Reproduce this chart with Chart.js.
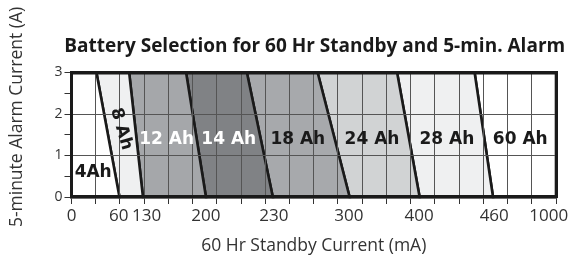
<!DOCTYPE html>
<html>
<head>
<meta charset="utf-8">
<script src="https://cdn.jsdelivr.net/npm/chart.js@4.4.0/dist/chart.umd.min.js"></script>
<style>
    html, body { margin: 0; padding: 0; background: #fff; }
    #wrap { width: 568px; height: 258px; }
</style>
</head>
<body>
<div id="wrap"><canvas id="grafico" width="568" height="258"></canvas></div>
<script>
// battery sizes, left to right
var batteries = ['4Ah', '8 Ah', '12 Ah', '14 Ah', '18 Ah', '24 Ah', '28 Ah', '60 Ah'];

// the chart is a 20 column grid, the dividing lines go from top (3 A) to bottom (0 A)
// edges in grid columns, first and last are the frame
var edgeTop = [0, 1.03, 2.38, 4.73, 7.24, 10.16, 13.44, 16.64, 20];
var edgeBottom = [0, 1.98, 2.95, 5.55, 8.31, 11.48, 14.37, 17.4, 20];

// height (A) where each size name sits
var labelLevel = [0.6, 1.64, 1.39, 1.39, 1.39, 1.39, 1.39, 1.39];

// x axis: standby current written where the lines meet the bottom
var xTickLabels = ['0', '60', '130', '200', '230', '300', '400', '460', '1000'];
var xTickPos = [0, 1.95, 3.1, 5.55, 8.35, 11.45, 14.35, 17.45, 19.7];
var yMin = 0, yMax = 3;
var gridCols = 20;

var chartTitle = 'Battery Selection for 60 Hr Standby and 5-min. Alarm';
var yTitle = '5-minute Alarm Current (A)';

var fillColors = ['#ffffff', '#eff0f1', '#a5a7aa', '#808285', '#a7a9ac', '#d1d3d4', '#eff0f1', '#ffffff'];
var textColors = ['#1a1a1a', '#1a1a1a', '#ffffff', '#ffffff', '#1a1a1a', '#1a1a1a', '#1a1a1a', '#1a1a1a'];
var textAngles = [0, 74, 0, 0, 0, 0, 0, 0];

function edgeAt(k, y) {
    // x of dividing line k at height y
    return edgeBottom[k] + (edgeTop[k] - edgeBottom[k]) * (y - yMin) / (yMax - yMin);
}

var datasets = [];
for (var i = 0; i < batteries.length; i++) {
    datasets.push({
        label: batteries[i],
        data: [
            {x: edgeTop[i], y: yMax},
            {x: edgeTop[i + 1], y: yMax},
            {x: edgeBottom[i + 1], y: yMin},
            {x: edgeBottom[i], y: yMin},
            {x: edgeTop[i], y: yMax}
        ],
        showLine: true,
        fill: 'shape',
        backgroundColor: fillColors[i],
        borderColor: '#1a1a1a',
        borderWidth: 2.6,
        pointRadius: 0,
        tension: 0,
        clip: false
    });
}

var sizeNames = {
    id: 'sizeNames',
    afterDraw: function (chart) {
        var ctx = chart.ctx;
        var xs = chart.scales.x;
        var ys = chart.scales.y;
        for (var i = 0; i < batteries.length; i++) {
            var lv = labelLevel[i];
            var cx = (edgeAt(i, lv) + edgeAt(i + 1, lv)) / 2;
            ctx.save();
            ctx.translate(xs.getPixelForValue(cx), ys.getPixelForValue(lv));
            ctx.rotate(textAngles[i] * Math.PI / 180);
            ctx.font = 'bold 17px "DejaVu Sans"';
            ctx.fillStyle = textColors[i];
            ctx.textAlign = 'center';
            ctx.textBaseline = 'middle';
            ctx.fillText(batteries[i], 0, 0);
            ctx.restore();
        }
        // title is a bit wider than the plot, so drawn here
        ctx.save();
        ctx.font = 'bold 19px "Open Sans"';
        ctx.fillStyle = '#1a1a1a';
        ctx.textAlign = 'center';
        ctx.textBaseline = 'middle';
        ctx.fillText(chartTitle, (chart.chartArea.left + chart.chartArea.right) / 2 + 1, 47);
        ctx.restore();
        // y axis title, sits a bit above the middle of the plot
        ctx.save();
        ctx.translate(17, 117);
        ctx.rotate(-Math.PI / 2);
        ctx.font = '17.5px "Open Sans"';
        ctx.fillStyle = '#333';
        ctx.textAlign = 'center';
        ctx.textBaseline = 'middle';
        ctx.fillText(yTitle, 0, 0);
        ctx.restore();
    }
};

// frame only axes for the top and right edge
var frameOnly = {
    display: true,
    min: 0,
    grid: { display: false, drawTicks: false },
    ticks: { display: false },
    border: { display: true, color: '#1a1a1a', width: 3.5, z: 2 }
};

var ctx = document.getElementById('grafico');
var chart = new Chart(ctx, {
    type: 'scatter',
    data: { datasets: datasets },
    options: {
        responsive: false,
        animation: false,
        devicePixelRatio: 1,
        layout: { padding: { left: 0, right: 12, top: 72.5, bottom: 1 } },
        plugins: {
            legend: { display: false },
            tooltip: { enabled: false },
            title: { display: false }
        },
        scales: {
            x: {
                type: 'linear',
                position: 'bottom',
                min: 0,
                max: gridCols,
                afterBuildTicks: function (scale) {
                    var vals = [];
                    for (var i = 0; i <= gridCols; i++) vals.push(i);
                    xTickPos.forEach(function (p) {
                        if (vals.indexOf(p) < 0) vals.push(p);
                    });
                    vals.sort(function (a, b) { return a - b; });
                    scale.ticks = vals.map(function (v) { return {value: v}; });
                },
                afterFit: function (scale) { scale.height = 60; },
                grid: {
                    z: 1,
                    color: function (c) {
                        var v = c.tick ? c.tick.value : -1;
                        return (Number.isInteger(v) && v > 0 && v < gridCols) ? '#555' : 'rgba(0,0,0,0)';
                    },
                    tickColor: function (c) {
                        var v = c.tick ? c.tick.value : -1;
                        return Number.isInteger(v) ? '#333' : 'rgba(0,0,0,0)';
                    },
                    tickLength: 7,
                    lineWidth: 1
                },
                border: { display: true, color: '#1a1a1a', width: 3.5, z: 2 },
                ticks: {
                    autoSkip: false,
                    maxRotation: 0,
                    padding: 2,
                    color: '#333',
                    font: { family: 'Open Sans', size: 17 },
                    callback: function (value) {
                        var k = xTickPos.indexOf(value);
                        return k >= 0 ? xTickLabels[k] : '';
                    }
                },
                title: {
                    display: true,
                    text: '60 Hr Standby Current (mA)',
                    color: '#333',
                    font: { family: 'Open Sans', size: 17.5 },
                    padding: { top: 0, bottom: 0 }
                }
            },
            xTop: Object.assign({}, frameOnly, {
                type: 'linear',
                position: 'top',
                max: gridCols,
                afterFit: function (scale) { scale.height = 0; }
            }),
            y: {
                type: 'linear',
                position: 'left',
                min: yMin,
                max: yMax,
                afterFit: function (scale) { scale.width = 71.5; },
                grid: {
                    z: 1,
                    color: function (c) {
                        var v = c.tick ? c.tick.value : -1;
                        return (Number.isInteger(v) && v > yMin && v < yMax) ? '#555' : 'rgba(0,0,0,0)';
                    },
                    tickColor: '#333',
                    tickLength: 7,
                    lineWidth: 1
                },
                border: { display: true, color: '#1a1a1a', width: 3, z: 2 },
                ticks: {
                    stepSize: 0.5,
                    padding: 2,
                    color: '#333',
                    font: { family: 'Open Sans', size: 14 },
                    callback: function (value) {
                        return Number.isInteger(value) ? String(value) : '';
                    }
                },
                title: { display: false }
            },
            yRight: Object.assign({}, frameOnly, {
                type: 'linear',
                position: 'right',
                max: yMax,
                border: { display: true, color: '#1a1a1a', width: 3, z: 2 },
                afterFit: function (scale) { scale.width = 0; }
            })
        }
    },
    plugins: [sizeNames]
});
</script>
</body>
</html>
